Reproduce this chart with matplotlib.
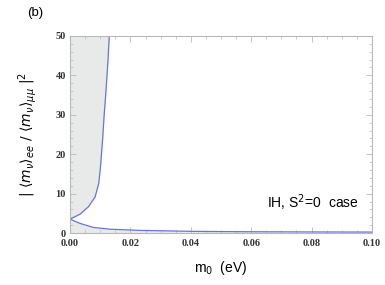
import numpy as np
import matplotlib
matplotlib.use("Agg")
import matplotlib.pyplot as plt
from matplotlib.ticker import MultipleLocator

plt.rcParams["font.family"] = ["Liberation Sans", "DejaVu Sans"]
plt.rcParams["mathtext.fontset"] = "dejavusans"

# upper branch
upper_y = [3.55, 4.8, 6.7, 9.2, 12.6, 17.0, 24.0, 30.0, 35.0, 43.0, 50.0]
upper_x = [0.0, 0.0033, 0.0061, 0.0083, 0.0095, 0.0101, 0.0108, 0.0113, 0.0118, 0.0125, 0.0130]

# lower branch
lower_x = [0.0, 0.0033, 0.0077, 0.0132, 0.023, 0.040, 0.060, 0.080, 0.100]
lower_y = [3.55, 2.46, 1.45, 1.0, 0.7, 0.45, 0.35, 0.3, 0.27]

LINE = "#6674e0"
SHADE = "#e8eaea"
FRAME = "#b8b8b8"

fig = plt.figure(figsize=(3.85, 2.85), dpi=100)
ax = fig.add_axes([0.182, 0.182, 0.784, 0.692])

ax.fill_betweenx(upper_y, 0, upper_x, color=SHADE, lw=0)
ax.fill_between(lower_x, 0, lower_y, color=SHADE, lw=0)
ax.plot(upper_x, upper_y, color=LINE, lw=0.9)
ax.plot(lower_x, lower_y, color=LINE, lw=0.9)

ax.set_xlim(0, 0.1)
ax.set_ylim(0, 50)
ax.xaxis.set_major_locator(MultipleLocator(0.02))
ax.xaxis.set_minor_locator(MultipleLocator(0.005))
ax.yaxis.set_major_locator(MultipleLocator(10))
ax.yaxis.set_minor_locator(MultipleLocator(2))
ax.set_xticks([0, 0.02, 0.04, 0.06, 0.08, 0.10])
ax.set_xticklabels(["0.00", "0.02", "0.04", "0.06", "0.08", "0.10"])
for s in ax.spines.values():
    s.set_color(FRAME)
    s.set_linewidth(0.8)
ax.tick_params(which="both", direction="in", top=True, right=True, color=FRAME,
               labelsize=7.5, labelcolor="#333333")
ax.tick_params(axis="x", pad=4)
ax.tick_params(axis="y", pad=3)
ax.tick_params(which="major", length=4, width=0.6)
ax.tick_params(which="minor", length=2, width=0.5)
for lab in ax.get_xticklabels() + ax.get_yticklabels():
    lab.set_family("Liberation Serif")
    lab.set_weight("bold")

ax.set_xlabel(r"m$_0$  (eV)", fontsize=10, labelpad=8)
ax.set_ylabel(r"$|\ \langle m_\nu\rangle_{ee}\ /\ \langle m_\nu\rangle_{\mu\mu}\ |^2$",
              fontsize=10, labelpad=12)
ax.text(0.955, 0.155, r"IH, S$^2$=0  case", transform=ax.transAxes,
        ha="right", va="center", fontsize=10)
fig.text(0.07, 0.955, "(b)", fontsize=9.5, ha="left", va="center")

fig.savefig("out.png", dpi=100)
